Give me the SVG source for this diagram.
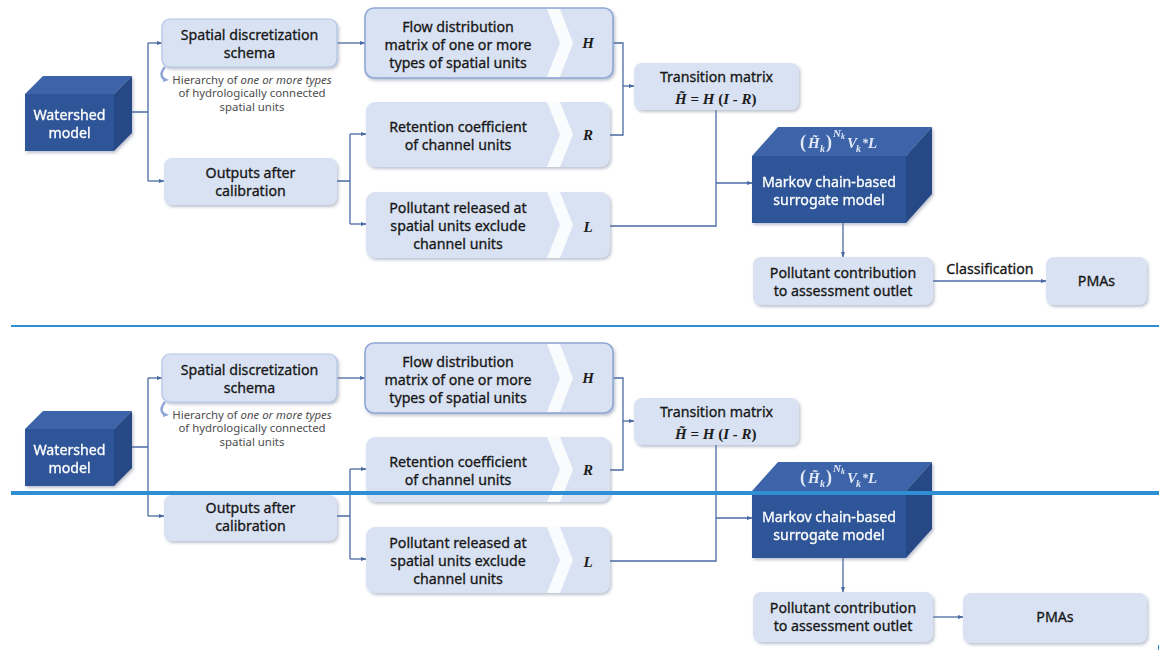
<svg xmlns="http://www.w3.org/2000/svg" width="1161" height="653" viewBox="0 0 1161 653">
<style>
.bg{fill:#ffffff}
.box{fill:#d9e2f2;filter:url(#sh)}
.hl{stroke:#8ea7d6;stroke-width:1.6}
.hl2{stroke:#b3c5e6;stroke-width:1.2}
.chev{fill:#ffffff;opacity:.85}
.t{font-family:"Noto Sans","Liberation Sans",sans-serif;font-size:14.2px;fill:#161616;stroke:#161616;stroke-width:0.3;text-anchor:middle}
.w{fill:#ffffff;stroke:#ffffff}
.note{font-family:"Noto Sans","Liberation Sans",sans-serif;font-size:11.4px;fill:#4d4d4d;text-anchor:middle}
.m{font-family:"Liberation Serif","DejaVu Serif",serif;font-style:italic;font-weight:bold;font-size:15px;fill:#1c1c1c}
.mw{font-family:"Liberation Serif","DejaVu Serif",serif;font-style:italic;font-weight:bold;font-size:15px;fill:#e3eaf7}
.up{font-style:normal}
.front{fill:#2f5597}
.top{fill:#3d64a9}
.side{fill:#264985}
.cube{filter:url(#sh)}
.c{fill:none;stroke:#4a6aa3;stroke-width:1.3}
.ca{fill:none;stroke:#4a6aa3;stroke-width:1.3;marker-end:url(#ah)}
.sep{stroke:#2f8fd4}
</style>
<defs>
<filter id="sh" x="-10%" y="-20%" width="125%" height="150%">
<feDropShadow dx="1.5" dy="2" stdDeviation="1.4" flood-color="#6f7d96" flood-opacity="0.45"/>
</filter>
<marker id="ah" viewBox="0 0 6 6" refX="5.5" refY="3" markerWidth="6" markerHeight="6" markerUnits="userSpaceOnUse" orient="auto">
<path d="M0,0.8 L6,3 L0,5.2 z" fill="#4a6aa3"/>
</marker>
</defs>
<rect class="bg" x="0" y="0" width="1161" height="653"/>

<!-- ===== COPY 1 ===== -->
<g id="copy1">
<g id="connectors1">
<path class="c" d="M132,112 H148 M148,43 V181"/>
<path class="ca" d="M148,43 H162"/>
<path class="ca" d="M148,181 H164"/>
<path class="ca" d="M337,43 H365"/>
<path class="c" d="M337,181 H350 M350,134 V224"/>
<path class="ca" d="M350,134 H366"/>
<path class="ca" d="M350,224 H366"/>
<path class="c" d="M613,43 H623 V135 H610"/>
<path class="ca" d="M623,86 H634"/>
<path class="c" d="M716,110 V226 H610"/>
<path class="ca" d="M716,183 H752"/>
<path class="ca" d="M843,223 V257"/>
<path class="ca" d="M933,281 H1046"/>
<text class="t" x="990" y="274">Classification</text>
</g>

<g id="watershed1" class="cube">
<polygon class="top" points="25,94 43,76 132,76 114,94"/>
<polygon class="side" points="114,94 132,76 132,133 114,151"/>
<rect class="front" x="25" y="94" width="89" height="57"/>
<text class="t w" x="69.5" y="120">Watershed</text>
<text class="t w" x="69.5" y="138">model</text>
</g>

<g id="spatial1">
<rect class="box hl2" x="162" y="19" width="175" height="48" rx="8"/>
<text class="t" x="249.5" y="40">Spatial discretization</text>
<text class="t" x="249.5" y="58">schema</text>
<path d="M165,67 Q158,75 165,80" fill="none" stroke="#8ea7d6" stroke-width="2.5"/>
<path d="M163,77 L169,80 L163,82 z" fill="#8ea7d6"/>
<text class="note" x="252" y="84">Hierarchy of <tspan font-style="italic">one or more types</tspan></text>
<text class="note" x="252" y="97">of hydrologically connected</text>
<text class="note" x="252" y="111">spatial units</text>
</g>

<g id="outputs1">
<rect class="box" x="164" y="158" width="173" height="47" rx="8"/>
<text class="t" x="250.5" y="178">Outputs after</text>
<text class="t" x="250.5" y="196">calibration</text>
</g>

<g id="flow1">
<rect class="box hl" x="365" y="8" width="248" height="70" rx="9"/>
<polygon class="chev" points="547,9 560,9 573,43 560,77 547,77 560,43"/>
<text class="t" x="458" y="32">Flow distribution</text>
<text class="t" x="458" y="50">matrix of one or more</text>
<text class="t" x="458" y="68">types of spatial units</text>
<text class="m" x="588" y="48" text-anchor="middle">H</text>
</g>

<g id="retention1">
<rect class="box" x="366" y="102" width="244" height="65" rx="9"/>
<polygon class="chev" points="547,102 560,102 573,134.5 560,167 547,167 560,134.5"/>
<text class="t" x="458" y="132">Retention coefficient</text>
<text class="t" x="458" y="150">of channel units</text>
<text class="m" x="588" y="140" text-anchor="middle">R</text>
</g>

<g id="released1">
<rect class="box" x="366" y="192" width="244" height="66" rx="9"/>
<polygon class="chev" points="547,192 560,192 573,225 560,258 547,258 560,225"/>
<text class="t" x="458" y="213">Pollutant released at</text>
<text class="t" x="458" y="231">spatial units exclude</text>
<text class="t" x="458" y="249">channel units</text>
<text class="m" x="588" y="232" text-anchor="middle">L</text>
</g>

<g id="transition1">
<rect class="box" x="634" y="63" width="165" height="47" rx="8"/>
<text class="t" x="716.5" y="82">Transition matrix</text>
<text class="m" x="675" y="104">H&#x303; <tspan class="up">=</tspan> H <tspan class="up">(</tspan>I - R<tspan class="up">)</tspan></text>
</g>

<g id="markov1" class="cube">
<polygon class="top" points="752,156 778,127 932,127 906,156"/>
<polygon class="side" points="906,156 932,127 932,194 906,223"/>
<rect class="front" x="752" y="156" width="154" height="67"/>
<text class="mw" y="148"><tspan x="800" class="up" font-size="18">(</tspan><tspan x="808">H&#x303;</tspan><tspan x="820" y="152" font-size="10">k</tspan><tspan x="826" y="148" class="up" font-size="18">)</tspan><tspan x="833" y="137" font-size="11">N</tspan><tspan x="841" y="139" font-size="8">k</tspan><tspan x="847" y="148">V</tspan><tspan x="856" y="152" font-size="10">k</tspan><tspan x="862" y="147" font-size="12">*</tspan><tspan x="868" y="148">L</tspan></text>
<text class="t w" x="829" y="187">Markov chain-based</text>
<text class="t w" x="829" y="205">surrogate model</text>
</g>

<g id="contribution1">
<rect class="box" x="753" y="257" width="180" height="48" rx="8"/>
<text class="t" x="843" y="278">Pollutant contribution</text>
<text class="t" x="843" y="296">to assessment outlet</text>
</g>

<g id="pmas1">
<rect class="box" x="1046" y="257" width="101" height="48" rx="8"/>
<text class="t" x="1096.5" y="286">PMAs</text>
</g>
</g>

<line class="sep" x1="11" y1="326" x2="1159" y2="326" stroke-width="2"/>

<!-- ===== COPY 2 ===== -->
<g id="copy2" transform="translate(0,335)">
<g id="connectors2">
<path class="c" d="M132,112 H148 M148,43 V181"/>
<path class="ca" d="M148,43 H162"/>
<path class="ca" d="M148,181 H164"/>
<path class="ca" d="M337,43 H365"/>
<path class="c" d="M337,181 H350 M350,134 V224"/>
<path class="ca" d="M350,134 H366"/>
<path class="ca" d="M350,224 H366"/>
<path class="c" d="M613,43 H623 V135 H610"/>
<path class="ca" d="M623,86 H634"/>
<path class="c" d="M716,110 V226 H610"/>
<path class="ca" d="M716,183 H752"/>
<path class="ca" d="M843,223 V257"/>
<path class="ca" d="M933,282 H963"/>
</g>

<g id="watershed2" class="cube">
<polygon class="top" points="25,94 43,76 132,76 114,94"/>
<polygon class="side" points="114,94 132,76 132,133 114,151"/>
<rect class="front" x="25" y="94" width="89" height="57"/>
<text class="t w" x="69.5" y="120">Watershed</text>
<text class="t w" x="69.5" y="138">model</text>
</g>

<g id="spatial2">
<rect class="box hl2" x="162" y="19" width="175" height="48" rx="8"/>
<text class="t" x="249.5" y="40">Spatial discretization</text>
<text class="t" x="249.5" y="58">schema</text>
<path d="M165,67 Q158,75 165,80" fill="none" stroke="#8ea7d6" stroke-width="2.5"/>
<path d="M163,77 L169,80 L163,82 z" fill="#8ea7d6"/>
<text class="note" x="252" y="84">Hierarchy of <tspan font-style="italic">one or more types</tspan></text>
<text class="note" x="252" y="97">of hydrologically connected</text>
<text class="note" x="252" y="111">spatial units</text>
</g>

<g id="outputs2">
<rect class="box" x="164" y="160" width="173" height="46" rx="8"/>
<text class="t" x="250.5" y="178">Outputs after</text>
<text class="t" x="250.5" y="196">calibration</text>
</g>

<g id="flow2">
<rect class="box hl" x="365" y="8" width="248" height="70" rx="9"/>
<polygon class="chev" points="547,9 560,9 573,43 560,77 547,77 560,43"/>
<text class="t" x="458" y="32">Flow distribution</text>
<text class="t" x="458" y="50">matrix of one or more</text>
<text class="t" x="458" y="68">types of spatial units</text>
<text class="m" x="588" y="48" text-anchor="middle">H</text>
</g>

<g id="retention2">
<rect class="box" x="366" y="102" width="244" height="65" rx="9"/>
<polygon class="chev" points="547,102 560,102 573,134.5 560,167 547,167 560,134.5"/>
<text class="t" x="458" y="132">Retention coefficient</text>
<text class="t" x="458" y="150">of channel units</text>
<text class="m" x="588" y="140" text-anchor="middle">R</text>
</g>

<g id="released2">
<rect class="box" x="366" y="192" width="244" height="66" rx="9"/>
<polygon class="chev" points="547,192 560,192 573,225 560,258 547,258 560,225"/>
<text class="t" x="458" y="213">Pollutant released at</text>
<text class="t" x="458" y="231">spatial units exclude</text>
<text class="t" x="458" y="249">channel units</text>
<text class="m" x="588" y="232" text-anchor="middle">L</text>
</g>

<g id="transition2">
<rect class="box" x="634" y="63" width="165" height="47" rx="8"/>
<text class="t" x="716.5" y="82">Transition matrix</text>
<text class="m" x="675" y="104">H&#x303; <tspan class="up">=</tspan> H <tspan class="up">(</tspan>I - R<tspan class="up">)</tspan></text>
</g>

<g id="markov2" class="cube">
<polygon class="top" points="752,156 778,127 932,127 906,156"/>
<polygon class="side" points="906,156 932,127 932,194 906,223"/>
<rect class="front" x="752" y="156" width="154" height="67"/>
<text class="mw" y="148"><tspan x="800" class="up" font-size="18">(</tspan><tspan x="808">H&#x303;</tspan><tspan x="820" y="152" font-size="10">k</tspan><tspan x="826" y="148" class="up" font-size="18">)</tspan><tspan x="833" y="137" font-size="11">N</tspan><tspan x="841" y="139" font-size="8">k</tspan><tspan x="847" y="148">V</tspan><tspan x="856" y="152" font-size="10">k</tspan><tspan x="862" y="147" font-size="12">*</tspan><tspan x="868" y="148">L</tspan></text>
<text class="t w" x="829" y="187">Markov chain-based</text>
<text class="t w" x="829" y="205">surrogate model</text>
</g>

<g id="contribution2">
<rect class="box" x="753" y="257" width="180" height="50" rx="8"/>
<text class="t" x="843" y="278">Pollutant contribution</text>
<text class="t" x="843" y="296">to assessment outlet</text>
</g>

<g id="pmas2">
<rect class="box" x="963" y="258" width="184" height="50" rx="8"/>
<text class="t" x="1055" y="287">PMAs</text>
</g>
</g>

<line class="sep" x1="11" y1="493" x2="1159" y2="493" stroke-width="4"/>
<line class="sep" x1="1158.5" y1="645" x2="1158.5" y2="650" stroke-width="1"/>
</svg>
